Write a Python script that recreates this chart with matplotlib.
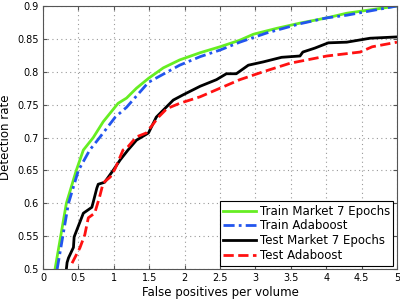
import matplotlib
matplotlib.use('Agg')
import matplotlib.pyplot as plt

# Train Market 7 Epochs
train_market_x = [0.17, 0.25, 0.33, 0.47, 0.57, 0.71, 0.85, 1.06, 1.18, 1.32, 1.49, 1.7, 1.93,
                  2.22, 2.5, 2.78, 2.97, 3.3, 3.63, 4.01, 4.29, 5.0]
train_market_y = [0.5, 0.55, 0.6, 0.65, 0.681, 0.70, 0.724, 0.752, 0.76, 0.775, 0.79, 0.806, 0.818,
                  0.829, 0.838, 0.848, 0.857, 0.866, 0.874, 0.882, 0.889, 0.9]

# Train Adaboost
train_ada_x = [0.2, 0.28, 0.36, 0.5, 0.66, 0.8, 1.02, 1.18, 1.49, 1.93, 2.22, 2.5, 2.78, 3.16,
               3.63, 4.01, 4.29, 5.0]
train_ada_y = [0.5, 0.55, 0.6, 0.65, 0.681, 0.70, 0.731, 0.746, 0.784, 0.81, 0.823, 0.833, 0.845,
               0.859, 0.873, 0.882, 0.886, 0.9]

# Test Market 7 Epochs
test_market_x = [0.33, 0.34, 0.36, 0.43, 0.44, 0.57, 0.69, 0.71, 0.76, 0.78, 0.87, 0.99, 1.09,
                 1.2, 1.32, 1.49, 1.6, 1.84, 1.98, 2.22, 2.45, 2.59, 2.73, 2.9, 3.11, 3.37,
                 3.63, 3.67, 3.84, 4.03, 4.29, 4.62, 5.0]
test_market_y = [0.5, 0.51, 0.517, 0.533, 0.549, 0.585, 0.594, 0.602, 0.623, 0.629, 0.632, 0.65,
                 0.666, 0.681, 0.696, 0.707, 0.731, 0.757, 0.765, 0.778, 0.788, 0.797, 0.797,
                 0.81, 0.815, 0.822, 0.824, 0.83, 0.836, 0.844, 0.845, 0.851, 0.853]

# Test Adaboost
test_ada_x = [0.41, 0.52, 0.59, 0.64, 0.73, 0.8, 0.85, 0.95, 1.02, 1.13, 1.2, 1.32, 1.46, 1.63,
              1.75, 1.93, 2.22, 2.5, 2.78, 3.11, 3.49, 4.01, 4.48, 4.65, 5.0]
test_ada_y = [0.509, 0.532, 0.552, 0.578, 0.585, 0.61, 0.631, 0.64, 0.653, 0.681, 0.686, 0.701,
              0.707, 0.731, 0.744, 0.752, 0.762, 0.775, 0.788, 0.8, 0.813, 0.824, 0.83, 0.838,
              0.845]

fig = plt.figure(figsize=(4, 3), dpi=100)
ax = fig.add_axes([0.1075, 0.103, 0.885, 0.877])

ax.plot(train_market_x, train_market_y, color='#66ee22', lw=2, label='Train Market 7 Epochs')
ax.plot(train_ada_x, train_ada_y, color='#2255ee', lw=2, ls=(0, (4, 1.5, 1, 1.5)), label='Train Adaboost')
ax.plot(test_market_x, test_market_y, color='black', lw=2, label='Test Market 7 Epochs')
ax.plot(test_ada_x, test_ada_y, color='#ff1111', lw=2, ls='--', label='Test Adaboost')

ax.set_xlim(0, 5)
ax.set_ylim(0.5, 0.9)
ax.set_xticks([0, 0.5, 1, 1.5, 2, 2.5, 3, 3.5, 4, 4.5, 5])
ax.set_xticklabels(['0', '0.5', '1', '1.5', '2', '2.5', '3', '3.5', '4', '4.5', '5'])
ax.set_yticks([0.5, 0.55, 0.6, 0.65, 0.7, 0.75, 0.8, 0.85, 0.9])
ax.set_yticklabels(['0.5', '0.55', '0.6', '0.65', '0.7', '0.75', '0.8', '0.85', '0.9'])
ax.tick_params(direction='in', top=True, right=True, labelsize=7, length=3, pad=3,
               color='#555555')
ax.grid(True, ls=(0, (1, 3)), color='#999999', lw=0.8)
for s in ax.spines.values():
    s.set_color('#555555')

ax.set_xlabel('False positives per volume', fontsize=8.5, labelpad=2)
ax.set_ylabel('Detection rate', fontsize=8.5, labelpad=4)

leg = ax.legend(loc='lower right', fontsize=8.5, fancybox=False, framealpha=1,
                edgecolor='black', borderaxespad=0.3, handlelength=2.8,
                labelspacing=0.15, borderpad=0.3, handletextpad=0.3)
leg.get_frame().set_linewidth(0.8)

plt.savefig('out.png', dpi=100)
